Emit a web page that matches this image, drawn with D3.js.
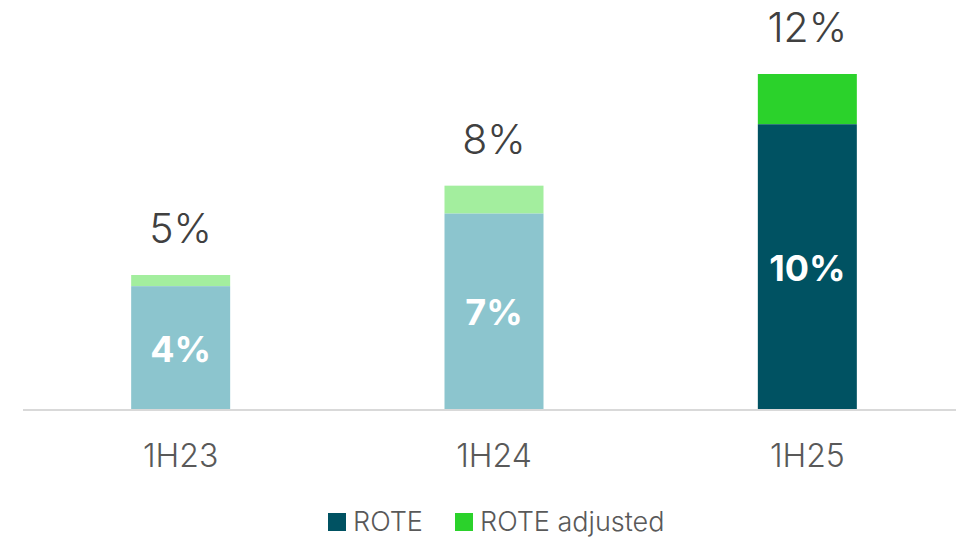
<!DOCTYPE html>
<html>
<head>
<meta charset="utf-8">
<script src="https://cdn.jsdelivr.net/npm/d3@7"></script>
<style>
  body { margin: 0; background: #fff; }
  svg { display: block; font-family: Inter, "Noto Sans", sans-serif; }
</style>
</head>
<body>
<svg id="chart" width="956" height="538"></svg>
<script>
// data
const categories = ['1H23', '1H24', '1H25'];
const rote = [4.4, 7.0, 10.2];
const adjustedExtra = [0.4, 1.0, 1.8];
const innerLabels = ['4%', '7%', '10%'];
const totalLabels = ['5%', '8%', '12%'];
const seriesNames = ['ROTE', 'ROTE adjusted'];

const roteColors = ['#8CC5CE', '#8CC5CE', '#005262'];
const adjColors = ['#A3EE9E', '#A3EE9E', '#2BD22B'];

const svg = d3.select('#chart');
const baseY = 409;

const x = d3.scaleBand().domain(categories).range([24, 964]);
const barW = 99;
const y = d3.scaleLinear().domain([0, 12]).range([baseY, 74]);

const data = categories.map((c, i) => ({
  c, i, rote: rote[i], total: rote[i] + adjustedExtra[i],
}));
const cx = (d) => x(d.c) + x.bandwidth() / 2;

// axis line
svg.append('line')
  .attr('x1', 23).attr('x2', 956)
  .attr('y1', baseY + 1).attr('y2', baseY + 1)
  .attr('stroke', '#D9D9D9').attr('stroke-width', 2);

const g = svg.append('g');

g.selectAll('rect.adj').data(data).join('rect')
  .attr('class', 'adj')
  .attr('x', (d) => cx(d) - barW / 2)
  .attr('width', barW)
  .attr('y', (d) => y(d.total))
  .attr('height', (d) => y(d.rote) - y(d.total))
  .attr('fill', (d) => adjColors[d.i]);

g.selectAll('rect.rote').data(data).join('rect')
  .attr('class', 'rote')
  .attr('x', (d) => cx(d) - barW / 2)
  .attr('width', barW)
  .attr('y', (d) => y(d.rote))
  .attr('height', (d) => y(0) - y(d.rote))
  .attr('fill', (d) => roteColors[d.i]);

// inner labels
g.selectAll('text.inner').data(data).join('text')
  .attr('class', 'inner')
  .attr('x', (d) => cx(d))
  .attr('y', (d) => (y(d.rote) + y(0)) / 2 + 14)
  .attr('text-anchor', 'middle')
  .attr('font-size', 36).attr('font-weight', 700)
  .attr('fill', '#fff')
  .text((d) => innerLabels[d.i]);

// total labels
g.selectAll('text.total').data(data).join('text')
  .attr('class', 'total')
  .attr('x', (d) => cx(d))
  .attr('y', (d) => y(d.total) - 32)
  .attr('text-anchor', 'middle')
  .attr('font-size', 41).attr('font-weight', 300)
  .attr('fill', '#404040')
  .text((d) => totalLabels[d.i]);

// category labels
g.selectAll('text.cat').data(data).join('text')
  .attr('class', 'cat')
  .attr('x', (d) => cx(d))
  .attr('y', 467)
  .attr('text-anchor', 'middle')
  .attr('font-size', 32).attr('font-weight', 300)
  .attr('fill', '#595959')
  .text((d) => d.c);

// legend
const legend = svg.append('g');
const legendX = [328, 455];
seriesNames.forEach((name, i) => {
  legend.append('rect')
    .attr('x', legendX[i]).attr('y', 513)
    .attr('width', 18).attr('height', 18)
    .attr('fill', i === 0 ? roteColors[2] : adjColors[2]);
  legend.append('text')
    .attr('x', legendX[i] + 25).attr('y', 531)
    .attr('font-size', 27).attr('font-weight', 300)
    .attr('fill', '#595959')
    .text(name);
});
</script>
</body>
</html>
